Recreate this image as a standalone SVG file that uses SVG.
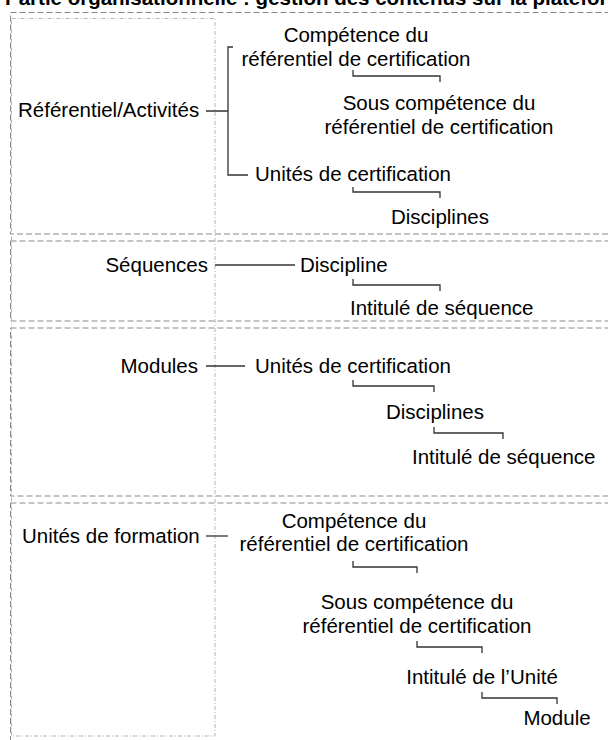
<svg xmlns="http://www.w3.org/2000/svg" width="608" height="740" viewBox="0 0 608 740">
<style>
text{font-family:"Liberation Sans",Arial,sans-serif;font-size:20.5px;fill:#000}
.t{font-weight:bold;font-size:20.5px}
.c{text-anchor:middle}
.e{text-anchor:end}
.row{fill:none;stroke:#8a8a8a;stroke-width:1;stroke-dasharray:6 3}
.col{fill:none;stroke:#b4b4b4;stroke-width:1;stroke-dasharray:4 2 1 2}
.ln{fill:none;stroke:#333;stroke-width:1.3}
</style>
<rect width="608" height="740" fill="#fff"/>
<text class="t" x="5" y="5">Partie organisationnelle : gestion des contenus sur la plateforme</text>
<g id="frames">
<rect class="row" x="10.5" y="12.5" width="620" height="221.5"/>
<rect class="row" x="10.5" y="241" width="620" height="80"/>
<rect class="row" x="10.5" y="328" width="620" height="168"/>
<rect class="row" x="10.5" y="503" width="620" height="260"/>
<rect class="col" x="11.5" y="18.5" width="203.5" height="717.5"/>
</g>
<g id="connectors">
<path class="ln" d="M206,111H228M233,47H228V175H248"/>
<path class="ln" d="M353,70V76H440V82"/>
<path class="ln" d="M353,187V192H440V198"/>
<path class="ln" d="M215,265H295"/>
<path class="ln" d="M353,279V285H440V291"/>
<path class="ln" d="M206,366H245"/>
<path class="ln" d="M353,380V386H434V392"/>
<path class="ln" d="M434,427V433H503V439"/>
<path class="ln" d="M206,536H228"/>
<path class="ln" d="M353,561V567H417V573"/>
<path class="ln" d="M417,641V647H482V653"/>
<path class="ln" d="M482,692V698H557V704"/>
</g>
<g id="n-referentiel"><text x="18" y="117">Référentiel/Activités</text></g>
<g id="n-competence1"><text class="c" x="356" y="42">Compétence du</text><text class="c" x="356" y="66">référentiel de certification</text></g>
<g id="n-souscomp1"><text class="c" x="439" y="110">Sous compétence du</text><text class="c" x="439" y="134">référentiel de certification</text></g>
<g id="n-unites1"><text x="255" y="181">Unités de certification</text></g>
<g id="n-disciplines1"><text class="c" x="440" y="224">Disciplines</text></g>
<g id="n-sequences"><text class="e" x="208" y="272">Séquences</text></g>
<g id="n-discipline2"><text x="300" y="272">Discipline</text></g>
<g id="n-intitule2"><text x="350" y="315">Intitulé de séquence</text></g>
<g id="n-modules"><text class="e" x="198" y="373">Modules</text></g>
<g id="n-unites3"><text x="255" y="373">Unités de certification</text></g>
<g id="n-disciplines3"><text x="386" y="419">Disciplines</text></g>
<g id="n-intitule3"><text x="412" y="464">Intitulé de séquence</text></g>
<g id="n-unitesformation"><text x="22" y="543">Unités de formation</text></g>
<g id="n-competence4"><text class="c" x="354" y="528">Compétence du</text><text class="c" x="354" y="551">référentiel de certification</text></g>
<g id="n-souscomp4"><text class="c" x="417" y="609">Sous compétence du</text><text class="c" x="417" y="633">référentiel de certification</text></g>
<g id="n-intituleunite"><text class="c" x="482" y="684">Intitulé de l’Unité</text></g>
<g id="n-module"><text class="c" x="557" y="725">Module</text></g>
</svg>
